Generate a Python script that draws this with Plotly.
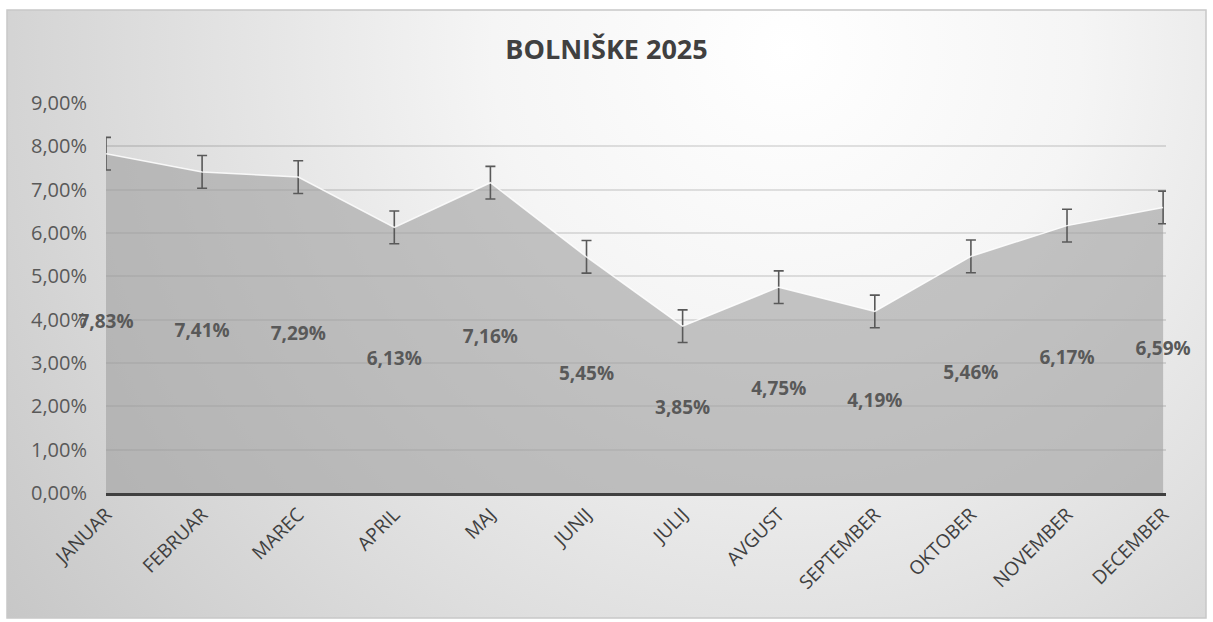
import base64
import plotly.graph_objects as go

months = ["JANUAR", "FEBRUAR", "MAREC", "APRIL", "MAJ", "JUNIJ",
          "JULIJ", "AVGUST", "SEPTEMBER", "OKTOBER", "NOVEMBER", "DECEMBER"]
values = [7.83, 7.41, 7.29, 6.13, 7.16, 5.45, 3.85, 4.75, 4.19, 5.46, 6.17, 6.59]
error_se = 0.377  # standard-error bars (same for every point)
y_ticks = [0, 1, 2, 3, 4, 5, 6, 7, 8, 9]
y_tick_text = ["0,00%", "1,00%", "2,00%", "3,00%", "4,00%", "5,00%",
               "6,00%", "7,00%", "8,00%", "9,00%"]
title_text = "BOLNIŠKE 2025"

W, H = 1213, 622
L, R, T, B = 106, 47, 103, 129
pw, ph = W - L - R, H - T - B

svg = (
    "<svg xmlns='http://www.w3.org/2000/svg' width='1199' height='608' "
    "viewBox='0 0 1199 608' preserveAspectRatio='none'>"
    "<defs><radialGradient id='g' gradientUnits='userSpaceOnUse' cx='780' cy='40' r='980'>"
    "<stop offset='0' stop-color='#ffffff'/>"
    "<stop offset='0.3' stop-color='#f5f5f5'/>"
    "<stop offset='1' stop-color='#c6c6c6'/>"
    "</radialGradient></defs>"
    "<rect width='1199' height='608' fill='url(#g)'/></svg>"
)
svg_uri = "data:image/svg+xml;base64," + base64.b64encode(svg.encode()).decode()

x = list(range(len(months)))

fig = go.Figure()
fig.add_trace(go.Scatter(
    x=x, y=values, mode="lines", fill="tozeroy",
    fillcolor="rgba(162,162,162,0.62)",
    line=dict(color="rgba(255,255,255,0.85)", width=1.5),
    error_y=dict(type="constant", value=error_se, color="#595959",
                 thickness=1.6, width=5),
    hoverinfo="skip", showlegend=False,
))
fig.add_trace(go.Scatter(
    x=x, y=[v / 2 for v in values], mode="text",
    text=[f"{v:.2f}".replace(".", ",") + "%" for v in values],
    textfont=dict(family="Open Sans", size=19, color="#595959", weight="bold"),
    cliponaxis=False, hoverinfo="skip", showlegend=False,
))

def px_to_paper_x(px):
    return (px - L) / pw

def px_to_paper_y(py):
    return (H - B - py) / ph

fig.add_layout_image(dict(
    source=svg_uri, xref="paper", yref="paper",
    x=px_to_paper_x(7), y=px_to_paper_y(10),
    sizex=1199 / pw, sizey=608 / ph,
    xanchor="left", yanchor="top", sizing="stretch", layer="below",
))
fig.add_shape(type="rect", xref="paper", yref="paper",
              x0=px_to_paper_x(7), x1=px_to_paper_x(1206),
              y0=px_to_paper_y(618), y1=px_to_paper_y(10),
              line=dict(color="#c8c8c8", width=1.5), layer="above")

fig.update_layout(
    width=W, height=H,
    margin=dict(l=L, r=R, t=T, b=B),
    paper_bgcolor="white", plot_bgcolor="rgba(0,0,0,0)",
    title=dict(text=title_text, x=0.5, xref="container", xanchor="center",
               y=1 - 50 / H, yref="container", yanchor="middle",
               font=dict(family="Open Sans", size=27, color="#404040", weight="bold")),
    xaxis=dict(
        range=[0, 11.03], tickvals=x, ticktext=months, tickangle=-45,
        showgrid=False, zeroline=False, showline=True,
        linecolor="#404040", linewidth=3, ticks="",
        tickfont=dict(family="Open Sans", size=19, color="#404040"),
    ),
    yaxis=dict(
        range=[0, 9], tickvals=y_ticks, ticktext=y_tick_text,
        showgrid=True, gridcolor="rgba(0,0,0,0.11)", gridwidth=2,
        zeroline=False, showline=False, ticks="", ticklabelstandoff=18,
        tickfont=dict(family="Open Sans", size=20, color="#595959"),
    ),
)

fig.write_html("out.html", config={"displayModeBar": False})
with open("out.html", encoding="utf-8") as f:
    html = f.read()
html = html.replace("<head>", "<head><style>html,body{margin:0;padding:0;overflow:hidden;}</style>", 1)
with open("out.html", "w", encoding="utf-8") as f:
    f.write(html)
